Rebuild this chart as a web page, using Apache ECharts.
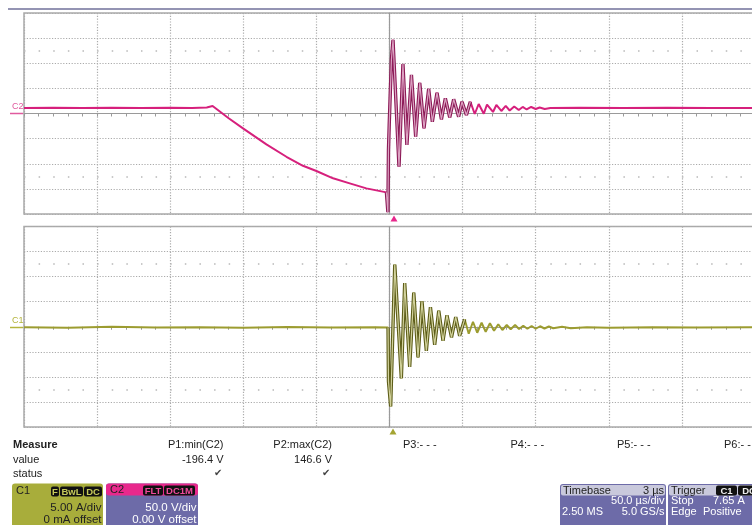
<!DOCTYPE html>
<html>
<head>
<meta charset="utf-8">
<script src="https://cdn.jsdelivr.net/npm/echarts@6/dist/echarts.min.js"></script>
<style>
html,body{margin:0;padding:0;background:#fff;}
#chart{width:752px;height:525px;}
</style>
</head>
<body>
<div id="chart"></div>
<script>
// ---- Data (time in µs relative to screen centre) ----
const c2Time = [-250,-230,-210,-190,-170,-150,-135,-125,-121,-120.2,-110,-100.2,-84.2,-70.5,-59.2,-50,-38.6,-27.2,-15.8,-2.1,-1.1,-0.7,-0.2,1.3,2.4,6.5,9.2,11.9,15.0,17.9,20.7,23.6,26.8,29.3,32.5,35.5,38.2,41.2,43.9,47.3,49.6,52.6,55.3,58.3,61.0,64.5,66.7,70.8,73.1,76.5,79.5,82.2,85.3,88.4,91.1,93.8,96.9,100,102.7,106.2,110,130,160,190,220,250];
const c2Volt = [11,11.5,11,11.5,11,11.5,11,12,15,11.4,-9.5,-29.5,-61.4,-86.1,-104,-114.5,-129,-139,-149,-157,-196.4,-72,-23,107,146.6,-106,98.6,-62.7,76.7,-46.2,60.8,-29.5,48.8,-16.3,41.4,-11.6,30.3,-7.6,28.3,-6.4,23.5,-3,23.5,-1,18.9,-0.4,17.9,3,17,5,15,6,14,7,13,8,13,9,12,9,11,11.5,11,11.5,11,11];

const c1Time = [-250,-220,-190,-160,-130,-100,-70,-40,-10,-1.0,-0.7,0.8,3.6,8.1,10.4,13.8,16.6,19.5,22.2,25.2,28.0,30.9,33.7,36.6,39.3,42.4,45.3,48.0,51.4,54.2,57.1,60.0,63.0,65.8,68.7,71.5,74.4,77.2,80.2,82.9,85.9,88.6,91.5,94.3,97.2,100,103,106,109,112,118,124,135,150,180,210,250];
const c1Amp  = [-0.1,-0.2,0.0,-0.15,-0.1,-0.2,-0.05,-0.15,-0.1,-0.15,-10.9,-15.9,12.4,-10.3,8.7,-8.0,6.8,-6.1,5.1,-4.8,3.9,-3.6,3.2,-2.8,2.3,-2.1,1.9,-1.8,1.5,-1.4,1.0,-1.2,0.8,-1.0,0.7,-0.8,0.5,-0.65,0.35,-0.5,0.35,-0.45,0.2,-0.4,0.15,-0.4,0.1,-0.35,0.05,-0.3,0.0,-0.3,-0.1,-0.2,-0.1,-0.15,-0.1];

const c2Range = [-200, 200, 50];   // 50 V/div
const c1Range = [-20, 20, 5];      // 5 A/div
const timeRange = [-250, 250, 50]; // 50 µs/div

const measureHead = ['Measure','P1:min(C2)','P2:max(C2)','P3:- - -','P4:- - -','P5:- - -','P6:- - -'];
const measureVals = ['-196.4 V','146.6 V'];

// ---- Build ----
const c2 = c2Time.map((t,i)=>[t,c2Volt[i]]);
const c1 = c1Time.map((t,i)=>[t,c1Amp[i]]);
const c2Ring = c2.filter(p=>p[0]>=-2.1 && p[0]<=55.3);
const c1Ring = c1.filter(p=>p[0]>=-1.0 && p[0]<=51.4);

const FONT = '"Liberation Sans", Arial, sans-serif';
const PINK = '#d6207c';
const OLIVE = '#9c9c30';

function xAx(g){
  return {
    type:'value', gridIndex:g, min:timeRange[0], max:timeRange[1], interval:timeRange[2],
    axisLabel:{show:false},
    axisLine:{show:true,onZero:true,lineStyle:{color:'#9a9a9a',width:1.2}},
    axisTick:{show:true,length:3,lineStyle:{color:'#9a9a9a'}},
    minorTick:{show:true,splitNumber:5,length:3,lineStyle:{color:'#9a9a9a'}},
    splitLine:{show:true,lineStyle:{color:'#ababab',width:1.2,type:[1.2,1.6]}}
  };
}
function yAx(g,r){
  return {
    type:'value', gridIndex:g, min:r[0], max:r[1], interval:r[2],
    axisLabel:{show:false},
    axisLine:{show:true,onZero:true,lineStyle:{color:'#9a9a9a',width:1.2}},
    axisTick:{show:false},
    splitLine:{show:true,lineStyle:{color:'#ababab',width:1.2,type:[1.2,1.6]}}
  };
}
function dotRows(v){
  return {silent:true,symbol:'none',label:{show:false},animation:false,
    lineStyle:{color:'#b8b8b8',width:1.5,type:[1.5,13.12]},
    data:[{yAxis:v},{yAxis:-v}]};
}
function line(data,g,color,width,z,extra){
  return Object.assign({type:'line',xAxisIndex:g,yAxisIndex:g,data:data,showSymbol:false,
    symbol:'none',animation:false,silent:true,z:z,
    lineStyle:{color:color,width:width}},extra||{});
}

function T(text,x,y,o){
  o=o||{};
  return {type:'text',z:100,style:{text:text,x:x,y:y,fill:o.fill||'#222',
    font:(o.weight||'normal')+' '+(o.size||11)+'px '+FONT,
    align:o.align||'left',verticalAlign:'middle'}};
}
function R(x,y,w,h,fill,r){
  return {type:'rect',z:90,shape:{x:x,y:y,width:w,height:h,r:r||0},style:{fill:fill}};
}
function badge(x,w,y,h,txt,col){
  return [R(x,y,w,h,'#111',2), T(txt,x+w/2,y+h/2+0.5,{fill:col,size:9.5,weight:'bold',align:'center'})];
}

const graphics = [
  {type:'line',z:100,shape:{x1:8,y1:9,x2:752,y2:9},style:{stroke:'#70709a',lineWidth:1.5}},
  T('C2',12,107,{fill:'#e05a9e',size:9}),
  {type:'line',z:100,shape:{x1:10,y1:113.5,x2:23,y2:113.5},style:{stroke:'#e05a9e',lineWidth:1.5}},
  T('C1',12,321,{fill:'#b4b43c',size:9}),
  {type:'line',z:100,shape:{x1:10,y1:327.5,x2:23,y2:327.5},style:{stroke:'#b4b43c',lineWidth:1.5}},
  {type:'polygon',z:100,shape:{points:[[390.5,221.5],[397.5,221.5],[394,215.5]]},style:{fill:'#e8288c'}},
  {type:'polygon',z:100,shape:{points:[[389.5,434.5],[396.5,434.5],[393,428.5]]},style:{fill:'#a4a432'}},
  // Measure table
  T(measureHead[0],13,444.5,{weight:'bold'}),
  T('value',13,459.5),
  T('status',13,473.5),
  T(measureHead[1],223.5,444.5,{align:'right'}),
  T(measureVals[0],223.5,459.5,{align:'right'}),
  T('✔',222,473.5,{align:'right',fill:'#444',size:10}),
  T(measureHead[2],332,444.5,{align:'right'}),
  T(measureVals[1],332,459.5,{align:'right'}),
  T('✔',330,473.5,{align:'right',fill:'#444',size:10}),
  T(measureHead[3],403,444.5),
  T(measureHead[4],510.5,444.5),
  T(measureHead[5],617,444.5),
  T(measureHead[6],724,444.5),
  // C1 box
  R(12,483.5,91,45,'#a8ad3b',3),
  T('C1',16,491,{fill:'#222'}),
  ...badge(51,8,486.5,10,'F','#c5c95a'),
  ...badge(60,23,486.5,10,'BwL','#c5c95a'),
  ...badge(84,18,486.5,10,'DC','#c5c95a'),
  T('5.00 A/div',101.5,508,{align:'right',size:11.5}),
  T('0 mA offset',101.5,520,{align:'right',size:11.5}),
  // C2 box
  R(106,483.5,92,45,'#6d6ba8',3),
  R(106,483.5,92,12,'#e8288c',3),
  T('C2',110,490,{fill:'#222'}),
  ...badge(143,20,485.5,10,'FLT','#f04a9c'),
  ...badge(164,31,485.5,10,'DC1M','#f04a9c'),
  T('50.0 V/div',196.5,508,{align:'right',fill:'#fff',size:11.5}),
  T('0.00 V offset',196.5,520,{align:'right',fill:'#fff',size:11.5}),
  // Timebase box
  R(560,484,106,45,'#6d6ba8',3),
  R(561,485,104,10.5,'#c9c9dc',2),
  T('Timebase',563,490.5),
  T('3 µs',664,490.5,{align:'right'}),
  T('50.0 µs/div',664.5,501,{align:'right',fill:'#fff'}),
  T('2.50 MS',562,512,{fill:'#fff'}),
  T('5.0 GS/s',664.5,512,{align:'right',fill:'#fff'}),
  // Trigger box
  R(668,484,100,45,'#6d6ba8',3),
  R(669,485,100,10.5,'#c9c9dc',2),
  T('Trigger',671,490.5),
  ...badge(716,21,485.5,10,'C1','#eee'),
  ...badge(738,22,485.5,10,'DC','#eee'),
  T('Stop',671,501,{fill:'#fff'}),
  T('7.65 A',713,501,{fill:'#fff'}),
  T('Edge',671,512,{fill:'#fff'}),
  T('Positive',703,512,{fill:'#fff'})
];

const option = {
  backgroundColor:'#ffffff',
  animation:false,
  grid:[
    {left:24,top:13,width:731,height:201,show:true,borderColor:'#a9a9a9',borderWidth:1.5,backgroundColor:'transparent',outerBoundsMode:'none',containLabel:false},
    {left:24,top:226.5,width:731,height:200.5,show:true,borderColor:'#a9a9a9',borderWidth:1.5,backgroundColor:'transparent',outerBoundsMode:'none',containLabel:false}
  ],
  xAxis:[xAx(0),xAx(1)],
  yAxis:[yAx(0,c2Range),yAx(1,c1Range)],
  series:[
    line(c2,0,PINK,2,10,{markLine:dotRows(125)}),
    line(c2Ring,0,'#8c1b57',3.4,11),
    line(c2Ring,0,'#dca2c2',1.2,12),
    line(c1,1,OLIVE,2,10,{markLine:dotRows(12.5)}),
    line(c1Ring,1,'#5e5e1a',3.4,11),
    line(c1Ring,1,'#d2d29c',1.2,12)
  ],
  graphic:graphics
};

const chart = echarts.init(document.getElementById('chart'),null,{renderer:'canvas'});
chart.setOption(option);
</script>
</body>
</html>
